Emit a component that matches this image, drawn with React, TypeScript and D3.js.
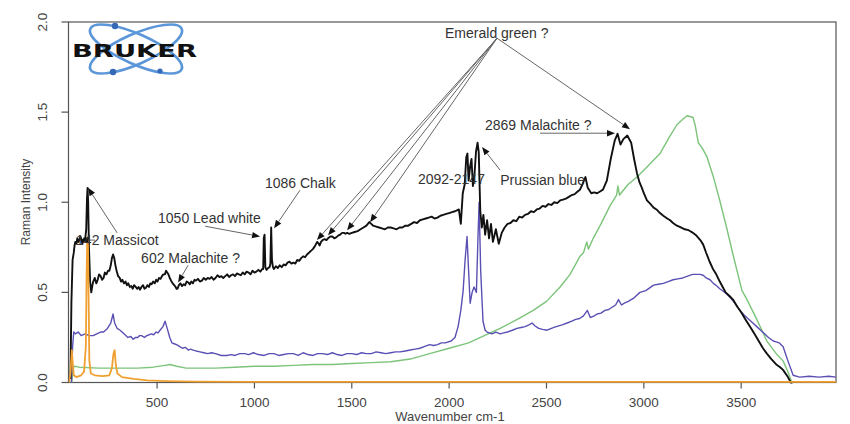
import React from 'react';
import * as d3 from 'd3';

type P = [number, number];

// Wavenumber (cm-1), Raman intensity — black spectrum
const blackSpectrum: P[] = [
  [55, 0.02], [60, 0.45], [66, 0.68], [72, 0.72], [76, 0.76], [80, 0.78], [86, 0.77], [90, 0.8], [96, 0.78],
  [100, 0.79], [106, 0.81], [110, 0.8], [116, 0.77], [120, 0.78], [126, 0.8], [130, 0.79], [136, 0.85],
  [140, 1.02], [143, 1.08], [146, 1.0], [150, 0.75], [156, 0.56], [162, 0.5], [168, 0.54], [172, 0.56],
  [180, 0.58], [188, 0.55], [195, 0.57], [202, 0.6], [210, 0.59], [218, 0.57], [225, 0.58], [232, 0.61],
  [240, 0.6], [248, 0.62], [255, 0.62], [262, 0.65], [268, 0.69], [274, 0.71], [280, 0.69], [286, 0.65],
  [292, 0.62], [300, 0.59], [308, 0.58], [315, 0.56], [322, 0.57], [330, 0.55], [338, 0.56], [345, 0.54],
  [352, 0.55], [360, 0.53], [368, 0.535], [375, 0.52], [382, 0.54], [390, 0.53], [398, 0.52], [405, 0.53],
  [412, 0.515], [420, 0.53], [428, 0.54], [435, 0.52], [442, 0.525], [450, 0.54], [458, 0.53], [465, 0.55],
  [472, 0.545], [480, 0.56], [488, 0.55], [495, 0.57], [502, 0.56], [510, 0.58], [518, 0.575], [525, 0.59],
  [532, 0.6], [540, 0.6], [546, 0.62], [552, 0.61], [558, 0.6], [565, 0.58], [572, 0.565], [580, 0.55],
  [588, 0.54], [595, 0.53], [600, 0.52], [605, 0.52], [612, 0.54], [620, 0.55], [628, 0.535], [636, 0.545],
  [644, 0.54], [652, 0.56], [660, 0.555], [668, 0.545], [676, 0.56], [684, 0.55], [692, 0.57], [700, 0.565],
  [710, 0.575], [720, 0.56], [730, 0.565], [740, 0.58], [750, 0.57], [760, 0.58], [770, 0.575], [780, 0.585],
  [790, 0.57], [800, 0.58], [810, 0.595], [820, 0.585], [830, 0.59], [840, 0.58], [850, 0.59], [860, 0.6],
  [870, 0.585], [880, 0.595], [890, 0.6], [900, 0.59], [910, 0.605], [920, 0.6], [930, 0.595], [940, 0.61],
  [950, 0.6], [960, 0.615], [970, 0.61], [980, 0.6], [990, 0.62], [1000, 0.61], [1010, 0.615], [1020, 0.625],
  [1030, 0.615], [1040, 0.63], [1045, 0.63], [1048, 0.8], [1052, 0.82], [1056, 0.64], [1062, 0.625],
  [1070, 0.635], [1078, 0.64], [1082, 0.66], [1086, 0.86], [1090, 0.68], [1095, 0.64], [1100, 0.63],
  [1110, 0.645], [1120, 0.635], [1130, 0.65], [1140, 0.64], [1150, 0.655], [1160, 0.65], [1170, 0.665],
  [1180, 0.67], [1190, 0.66], [1200, 0.665], [1210, 0.66], [1220, 0.68], [1230, 0.675], [1240, 0.69],
  [1250, 0.7], [1260, 0.695], [1270, 0.71], [1280, 0.72], [1290, 0.73], [1300, 0.74], [1310, 0.755],
  [1322, 0.78], [1330, 0.77], [1335, 0.76], [1342, 0.78], [1350, 0.79], [1360, 0.795], [1370, 0.79],
  [1378, 0.8], [1390, 0.81], [1400, 0.81], [1410, 0.8], [1420, 0.805], [1430, 0.815], [1440, 0.82],
  [1450, 0.83], [1460, 0.83], [1468, 0.825], [1476, 0.83], [1488, 0.825], [1500, 0.83], [1515, 0.835],
  [1530, 0.84], [1545, 0.85], [1560, 0.86], [1575, 0.87], [1590, 0.89], [1600, 0.88], [1610, 0.87],
  [1625, 0.865], [1640, 0.86], [1655, 0.855], [1670, 0.85], [1685, 0.86], [1700, 0.86], [1715, 0.855],
  [1730, 0.85], [1745, 0.86], [1760, 0.86], [1775, 0.87], [1790, 0.87], [1805, 0.88], [1820, 0.89],
  [1835, 0.885], [1850, 0.9], [1865, 0.905], [1880, 0.91], [1895, 0.915], [1910, 0.92], [1925, 0.91],
  [1940, 0.915], [1955, 0.925], [1970, 0.93], [1985, 0.935], [2000, 0.94], [2015, 0.945], [2030, 0.95],
  [2040, 0.955], [2050, 0.96], [2060, 0.88], [2070, 1.05], [2080, 1.1], [2088, 1.25], [2094, 1.27],
  [2100, 1.12], [2108, 1.2], [2115, 1.24], [2122, 1.09], [2130, 1.15], [2138, 1.28], [2146, 1.33],
  [2152, 1.28], [2160, 0.95], [2168, 0.86], [2176, 0.93], [2185, 0.82], [2195, 0.9], [2205, 0.8],
  [2215, 0.88], [2225, 0.78], [2240, 0.85], [2255, 0.77], [2270, 0.83], [2285, 0.86], [2300, 0.88],
  [2315, 0.885], [2330, 0.9], [2345, 0.895], [2360, 0.92], [2375, 0.915], [2390, 0.93], [2405, 0.935],
  [2420, 0.95], [2435, 0.945], [2450, 0.96], [2465, 0.965], [2480, 0.98], [2495, 0.975], [2510, 0.99],
  [2525, 0.985], [2540, 1.0], [2555, 0.995], [2570, 1.01], [2585, 1.015], [2600, 1.02], [2615, 1.03],
  [2630, 1.04], [2645, 1.045], [2660, 1.06], [2672, 1.07], [2685, 1.1], [2700, 1.14], [2712, 1.08],
  [2730, 1.05], [2745, 1.055], [2760, 1.05], [2775, 1.06], [2790, 1.07], [2810, 1.12], [2830, 1.24],
  [2850, 1.34], [2865, 1.38], [2880, 1.32], [2895, 1.35], [2915, 1.37], [2935, 1.33], [2950, 1.24],
  [2965, 1.16], [2978, 1.11], [2990, 1.08], [3000, 1.05], [3016, 1.01], [3030, 0.995], [3050, 0.97],
  [3065, 0.96], [3083, 0.94], [3100, 0.925], [3120, 0.91], [3135, 0.9], [3150, 0.885], [3170, 0.87],
  [3190, 0.86], [3210, 0.85], [3230, 0.845], [3253, 0.83], [3270, 0.815], [3290, 0.79], [3305, 0.765],
  [3320, 0.72], [3338, 0.67], [3355, 0.63], [3372, 0.6], [3390, 0.56], [3405, 0.53], [3420, 0.5],
  [3440, 0.48], [3458, 0.46], [3480, 0.42], [3500, 0.39], [3522, 0.35], [3545, 0.31], [3568, 0.27],
  [3590, 0.23], [3612, 0.19], [3632, 0.16], [3655, 0.13], [3680, 0.1], [3700, 0.085], [3715, 0.07],
  [3740, 0.03], [3765, -0.02], [3780, -0.05],
];

const blueSpectrum: P[] = [
  [60, 0], [66, 0.2], [72, 0.28], [80, 0.27], [95, 0.28], [110, 0.26], [130, 0.27], [150, 0.26],
  [172, 0.26], [190, 0.27], [210, 0.28], [225, 0.28], [245, 0.3], [262, 0.33], [274, 0.38],
  [282, 0.33], [295, 0.3], [310, 0.29], [330, 0.27], [350, 0.25], [365, 0.255], [377, 0.24], [390, 0.25],
  [400, 0.25], [410, 0.26], [420, 0.26], [435, 0.25], [447, 0.26], [460, 0.265], [470, 0.27], [482, 0.265],
  [495, 0.28], [505, 0.275], [515, 0.29], [530, 0.31], [541, 0.34], [552, 0.3], [565, 0.25], [576, 0.22],
  [588, 0.215], [600, 0.21], [615, 0.2], [630, 0.19], [645, 0.195], [660, 0.18], [672, 0.185], [685, 0.18],
  [700, 0.175], [720, 0.17], [740, 0.165], [760, 0.16], [780, 0.165], [800, 0.16], [830, 0.15],
  [858, 0.15], [880, 0.155], [900, 0.15], [925, 0.16], [950, 0.16], [970, 0.155], [995, 0.165],
  [1020, 0.155], [1050, 0.15], [1075, 0.16], [1100, 0.16], [1125, 0.15], [1150, 0.155], [1175, 0.16],
  [1200, 0.16], [1225, 0.15], [1250, 0.165], [1275, 0.155], [1300, 0.15], [1325, 0.16], [1350, 0.16],
  [1375, 0.155], [1400, 0.165], [1425, 0.155], [1450, 0.15], [1475, 0.16], [1500, 0.16], [1525, 0.155],
  [1550, 0.165], [1575, 0.16], [1600, 0.16], [1625, 0.17], [1650, 0.165], [1675, 0.16], [1700, 0.165],
  [1725, 0.17], [1748, 0.17], [1775, 0.175], [1800, 0.18], [1825, 0.185], [1850, 0.19], [1875, 0.2],
  [1900, 0.21], [1920, 0.205], [1940, 0.21], [1960, 0.22], [1980, 0.22], [2010, 0.23], [2030, 0.25],
  [2046, 0.31], [2060, 0.4], [2072, 0.51], [2082, 0.68], [2092, 0.81], [2100, 0.62], [2108, 0.44],
  [2118, 0.5], [2128, 0.53], [2140, 0.5], [2148, 0.8], [2154, 1.0], [2162, 0.62], [2174, 0.34],
  [2185, 0.29], [2195, 0.28], [2205, 0.275], [2220, 0.27], [2240, 0.28], [2262, 0.27], [2280, 0.275],
  [2300, 0.28], [2325, 0.29], [2348, 0.3], [2370, 0.305], [2390, 0.31], [2410, 0.32], [2426, 0.33],
  [2440, 0.315], [2460, 0.3], [2480, 0.295], [2503, 0.29], [2525, 0.3], [2550, 0.31], [2580, 0.32],
  [2606, 0.33], [2630, 0.34], [2650, 0.35], [2670, 0.355], [2690, 0.37], [2710, 0.4], [2725, 0.36],
  [2745, 0.37], [2760, 0.38], [2780, 0.385], [2800, 0.4], [2820, 0.405], [2840, 0.42], [2855, 0.43],
  [2870, 0.46], [2885, 0.43], [2900, 0.44], [2920, 0.45], [2950, 0.47], [2980, 0.5], [3010, 0.51],
  [3050, 0.54], [3075, 0.545], [3100, 0.55], [3125, 0.56], [3150, 0.57], [3175, 0.575], [3200, 0.58],
  [3225, 0.59], [3250, 0.6], [3270, 0.6], [3289, 0.6], [3305, 0.595], [3320, 0.58], [3340, 0.57],
  [3357, 0.55], [3375, 0.535], [3390, 0.52], [3410, 0.505], [3427, 0.49], [3445, 0.47], [3460, 0.45],
  [3478, 0.425], [3494, 0.4], [3515, 0.375], [3540, 0.35], [3560, 0.33], [3580, 0.31], [3600, 0.29],
  [3620, 0.27], [3640, 0.25], [3665, 0.23], [3680, 0.225], [3695, 0.22], [3705, 0.21], [3715, 0.2],
  [3740, 0.12], [3767, 0.04], [3800, 0.03], [3850, 0.035], [3900, 0.03], [3950, 0.035], [3987, 0.03],
];

const greenSpectrum: P[] = [
  [62, 0], [68, 0.08], [75, 0.09], [100, 0.085], [200, 0.08], [300, 0.08], [400, 0.08], [480, 0.085],
  [540, 0.095], [567, 0.1], [600, 0.09], [650, 0.08], [700, 0.08], [800, 0.08], [900, 0.085],
  [1000, 0.09], [1100, 0.09], [1200, 0.095], [1300, 0.1], [1400, 0.1], [1500, 0.105], [1600, 0.11],
  [1700, 0.115], [1800, 0.13], [1900, 0.16], [2000, 0.19], [2100, 0.22], [2200, 0.27], [2262, 0.3],
  [2350, 0.35], [2432, 0.4], [2500, 0.45], [2570, 0.53], [2621, 0.6], [2672, 0.7], [2690, 0.72],
  [2707, 0.78], [2715, 0.74], [2740, 0.8], [2780, 0.88], [2826, 0.98], [2860, 1.04], [2867, 1.09],
  [2875, 1.04], [2920, 1.1], [2965, 1.14], [3020, 1.2], [3083, 1.27], [3130, 1.36], [3170, 1.43],
  [3200, 1.46], [3222, 1.48], [3253, 1.47], [3265, 1.42], [3280, 1.33], [3300, 1.3], [3325, 1.25],
  [3360, 1.13], [3390, 1.01], [3425, 0.86], [3458, 0.71], [3504, 0.51], [3530, 0.46], [3580, 0.35],
  [3632, 0.23], [3680, 0.16], [3715, 0.12], [3740, 0.06], [3760, 0.0],
];

const orangeSpectrum: P[] = [
  [48, 0], [55, 0.05], [62, 0.18], [66, 0.12], [72, 0.04], [85, 0.03], [110, 0.04], [125, 0.06],
  [134, 0.2], [138, 0.6], [141, 0.78], [145, 0.78], [148, 0.5], [152, 0.12], [160, 0.05], [180, 0.04],
  [220, 0.035], [255, 0.04], [268, 0.08], [276, 0.16], [282, 0.18], [288, 0.1], [296, 0.05],
  [320, 0.03], [380, 0.02], [450, 0.012], [550, 0.008], [700, 0.005], [1000, 0.004], [2000, 0.004],
  [3000, 0.004], [3987, 0.004],
];

const xTickValues = [500, 1000, 1500, 2000, 2500, 3000, 3500];
const yTickValues = [0, 0.5, 1.0, 1.5, 2.0];
const yTickLabels = ['0.0', '0.5', '1.0', '1.5', '2.0'];

// annotation labels: text, anchor (wavenumber, intensity)
const labelTexts = ['142 Massicot', '602 Malachite ?', '1050 Lead white', '1086 Chalk', 'Emerald green ?', '2092-2147', 'Prussian blue', '2869 Malachite ?'];
const labelAnchors: P[] = [[84, 0.79], [418, 0.69], [505, 0.91], [1054, 1.105], [1979, 1.94], [1840, 1.128], [2262, 1.122], [2184, 1.428]];
// arrows: from -> to in data space
const arrowFrom: P[] = [
  [295, 0.83], [181, 0.79], [659, 0.65], [747, 0.867], [1234, 1.067],
  [2246, 1.91], [2246, 1.91], [2246, 1.91], [2246, 1.91], [2246, 1.91],
  [2262, 1.178], [2467, 1.383],
];
const arrowTo: P[] = [
  [145, 1.08], [104, 0.79], [608, 0.555], [1029, 0.81], [1101, 0.856],
  [1321, 0.79], [1378, 0.817], [1476, 0.844], [1594, 0.889], [2929, 1.405],
  [2169, 1.306], [2852, 1.383],
];

export default function App() {
  const W = 850, H = 424;
  const left = 68.5, right = 836, top = 22, bottom = 382.5;
  const x = d3.scaleLinear().domain([45, 3987]).range([left, right]);
  const y = d3.scaleLinear().domain([0, 2]).range([bottom, top]);
  const line = d3.line<P>().x(d => x(d[0])).y(d => y(d[1]));
  const font = '"Liberation Sans", Arial, Helvetica, sans-serif';

  const arrows = arrowFrom.map((f, i) => {
    const t = arrowTo[i];
    const x1 = x(f[0]), y1 = y(f[1]), x2 = x(t[0]), y2 = y(t[1]);
    const a = Math.atan2(y2 - y1, x2 - x1);
    const L = 8, w = 3.2;
    const bx = x2 - L * Math.cos(a), by = y2 - L * Math.sin(a);
    const head = `${x2},${y2} ${bx + w * Math.sin(a)},${by - w * Math.cos(a)} ${bx - w * Math.sin(a)},${by + w * Math.cos(a)}`;
    return { x1, y1, bx, by, head };
  });

  return (
    <svg width={W} height={H} style={{ position: 'absolute', left: 0, top: 0, background: '#fff' }}>
      <defs>
        <clipPath id="plotClip">
          <rect x={left} y={top} width={right - left} height={bottom - top + 1} />
        </clipPath>
      </defs>

      {/* Bruker logo */}
      <g>
        <ellipse cx={136} cy={49} rx={50} ry={15} transform="rotate(24 136 49)" fill="none" stroke="#5b96d8" strokeWidth={2.6} />
        <ellipse cx={136} cy={49} rx={50} ry={15} transform="rotate(-24 136 49)" fill="none" stroke="#5b96d8" strokeWidth={2.6} />
        <circle cx={115} cy={26} r={3.2} fill="#3569b8" />
        <circle cx={113} cy={72} r={3.2} fill="#3569b8" />
        <circle cx={160} cy={71} r={2.6} fill="#3569b8" />
        <text x={72} y={57} textLength={125} lengthAdjust="spacingAndGlyphs"
          style={{ fontFamily: '"DejaVu Sans", sans-serif', fontWeight: 900, fontSize: 17, fill: '#111' }}>BRUKER</text>
      </g>

      {/* frame */}
      <rect x={left} y={top} width={right - left} height={bottom - top} fill="none" stroke="#555" strokeWidth={1.2} />

      {/* y axis ticks */}
      {yTickValues.map((v, i) => (
        <g key={'yt' + i}>
          <line x1={left - 7} x2={left} y1={y(v)} y2={y(v)} stroke="#555" strokeWidth={1.2} />
          <text transform={`translate(42, ${y(v)}) rotate(-90)`} textAnchor="middle" dominantBaseline="central"
            style={{ fontFamily: font, fontSize: 13.5, fill: '#444' }}>{yTickLabels[i]}</text>
        </g>
      ))}
      {/* x axis ticks */}
      {xTickValues.map(v => (
        <g key={'xt' + v}>
          <line x1={x(v)} x2={x(v)} y1={bottom} y2={bottom + 6} stroke="#555" strokeWidth={1.2} />
          <text x={x(v)} y={402} textAnchor="middle" dominantBaseline="central"
            style={{ fontFamily: font, fontSize: 13.5, fill: '#444' }}>{v}</text>
        </g>
      ))}
      <text x={450} y={416.5} textAnchor="middle" dominantBaseline="central"
        style={{ fontFamily: font, fontSize: 13, fill: '#444' }}>Wavenumber cm-1</text>
      <text transform={`translate(25.5, 202) rotate(-90)`} textAnchor="middle" dominantBaseline="central"
        style={{ fontFamily: font, fontSize: 12, fill: '#444' }}>Raman Intensity</text>

      {/* spectra */}
      <g clipPath="url(#plotClip)" fill="none" strokeLinejoin="round">
        <path d={line(greenSpectrum) || ''} stroke="#7cc47a" strokeWidth={1.4} />
        <path d={line(blueSpectrum) || ''} stroke="#5a50b4" strokeWidth={1.4} />
        <path d={line(blackSpectrum) || ''} stroke="#111" strokeWidth={1.9} />
        <path d={line(orangeSpectrum) || ''} stroke="#f0a030" strokeWidth={1.8} />
      </g>

      {/* annotations */}
      {arrows.map((a, i) => (
        <g key={'ar' + i}>
          <line x1={a.x1} y1={a.y1} x2={a.bx} y2={a.by} stroke="#666" strokeWidth={1} />
          <polygon points={a.head} fill="#111" />
        </g>
      ))}
      {labelTexts.map((t, i) => (
        <text key={'lb' + i} x={x(labelAnchors[i][0])} y={y(labelAnchors[i][1])} dominantBaseline="central"
          style={{ fontFamily: font, fontSize: 14, fill: '#333' }}>{t}</text>
      ))}
    </svg>
  );
}
